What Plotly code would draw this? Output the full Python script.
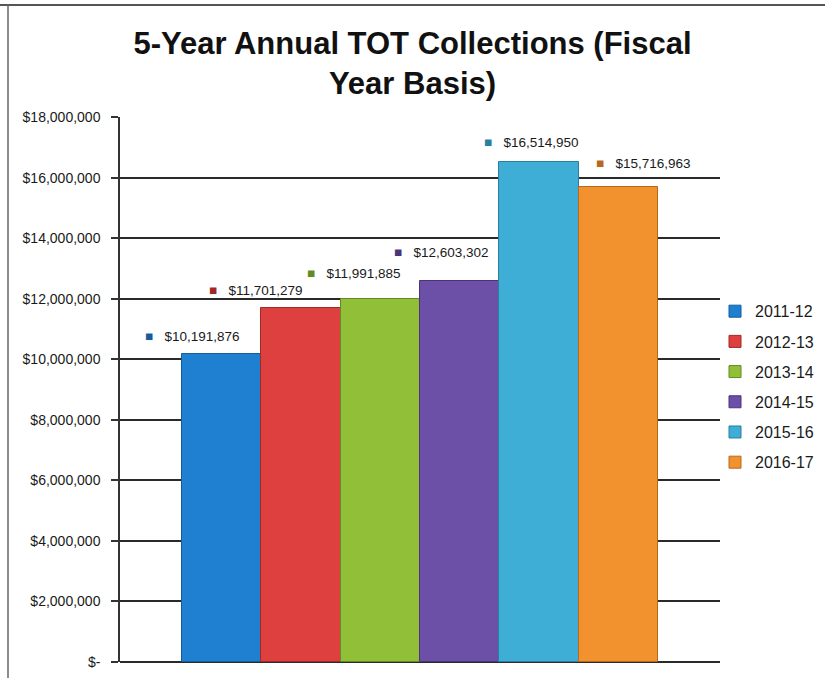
import plotly.graph_objects as go

# Fiscal years and annual TOT collections
fiscal_years = ["2011-12", "2012-13", "2013-14", "2014-15", "2015-16", "2016-17"]
collections = [10191876, 11701279, 11991885, 12603302, 16514950, 15716963]

# Axis ticks
tick_values = [0, 2000000, 4000000, 6000000, 8000000, 10000000,
               12000000, 14000000, 16000000, 18000000]
tick_labels = ["$-", "$2,000,000", "$4,000,000", "$6,000,000", "$8,000,000",
               "$10,000,000", "$12,000,000", "$14,000,000", "$16,000,000",
               "$18,000,000"]

# Styling
bar_colors = ["#1f7fd0", "#de4040", "#92bf38", "#6c4fa6", "#3eaed6", "#f1922f"]
edge_colors = ["#155d9a", "#a02828", "#648a22", "#4a3478", "#2a7e9e", "#b8681c"]
label_dx = [-29, -45, -27, -19, -8, 24]
label_dy = [17, 18, 26, 28, 20, 23]

W, H = 825, 678
L, R, T, B = 120, 105, 117, 16


def px_x(p):
    return (p - L) / (W - L - R)


def px_y(p):
    return (H - B - p) / (H - T - B)


fig = go.Figure()
for i, (yr, val) in enumerate(zip(fiscal_years, collections)):
    fig.add_trace(go.Bar(
        x=[yr], y=[val], name=yr, legendgroup=yr,
        marker=dict(color=bar_colors[i], line=dict(color=edge_colors[i], width=1)),
        hoverinfo="name+y",
    ))
    fig.add_annotation(
        x=yr, y=val, xref="x", yref="y",
        text=f'<span style="color:{edge_colors[i]}">■</span>   ${val:,}',
        showarrow=False, xanchor="center", yanchor="middle",
        xshift=label_dx[i], yshift=label_dy[i],
        font=dict(family="Liberation Sans, Arial, sans-serif", size=13.5, color="#1a1a1a"),
    )

# Page frame lines
fig.add_shape(type="line", xref="paper", yref="paper",
              x0=px_x(0), x1=px_x(W), y0=px_y(5), y1=px_y(5),
              line=dict(color="#555555", width=2))
fig.add_shape(type="line", xref="paper", yref="paper",
              x0=px_x(8), x1=px_x(8), y0=px_y(5), y1=px_y(H),
              line=dict(color="#666666", width=1.5))

fig.update_layout(
    width=W, height=H,
    margin=dict(l=L, r=R, t=T, b=B, autoexpand=False),
    paper_bgcolor="white", plot_bgcolor="white",
    barmode="overlay", bargap=0,
    font=dict(family="Liberation Sans, Arial, sans-serif", color="#1a1a1a"),
    title=dict(
        text="<b>5-Year Annual TOT Collections (Fiscal<br>Year Basis)</b>",
        x=0.5, xref="container", xanchor="center",
        y=0.921, yref="container", yanchor="top",
        font=dict(size=31, color="#111111"),
    ),
    xaxis=dict(
        type="category", categoryorder="array", categoryarray=fiscal_years,
        range=[-1.275, 6.275], showticklabels=False, showgrid=False,
        zeroline=False, showline=False, ticks="",
    ),
    yaxis=dict(
        range=[0, 18015000], tickvals=tick_values, ticktext=tick_labels,
        showgrid=True, gridcolor="#2a2a2a", gridwidth=1.5,
        showline=True, linecolor="#333333", linewidth=1.5,
        ticks="outside", ticklen=7, tickcolor="#333333", tickwidth=1.5,
        zeroline=True, zerolinecolor="#2a2a2a", zerolinewidth=1.5,
        tickfont=dict(size=14, color="#1a1a1a"), ticklabelstandoff=8,
        fixedrange=True,
    ),
    legend=dict(
        x=px_x(715), xanchor="left", y=0.505, yanchor="middle",
        font=dict(size=16, color="#1a1a1a"),
        tracegroupgap=6.4, itemwidth=30,
        bgcolor="rgba(0,0,0,0)",
    ),
)

fig.write_html("out.html")
